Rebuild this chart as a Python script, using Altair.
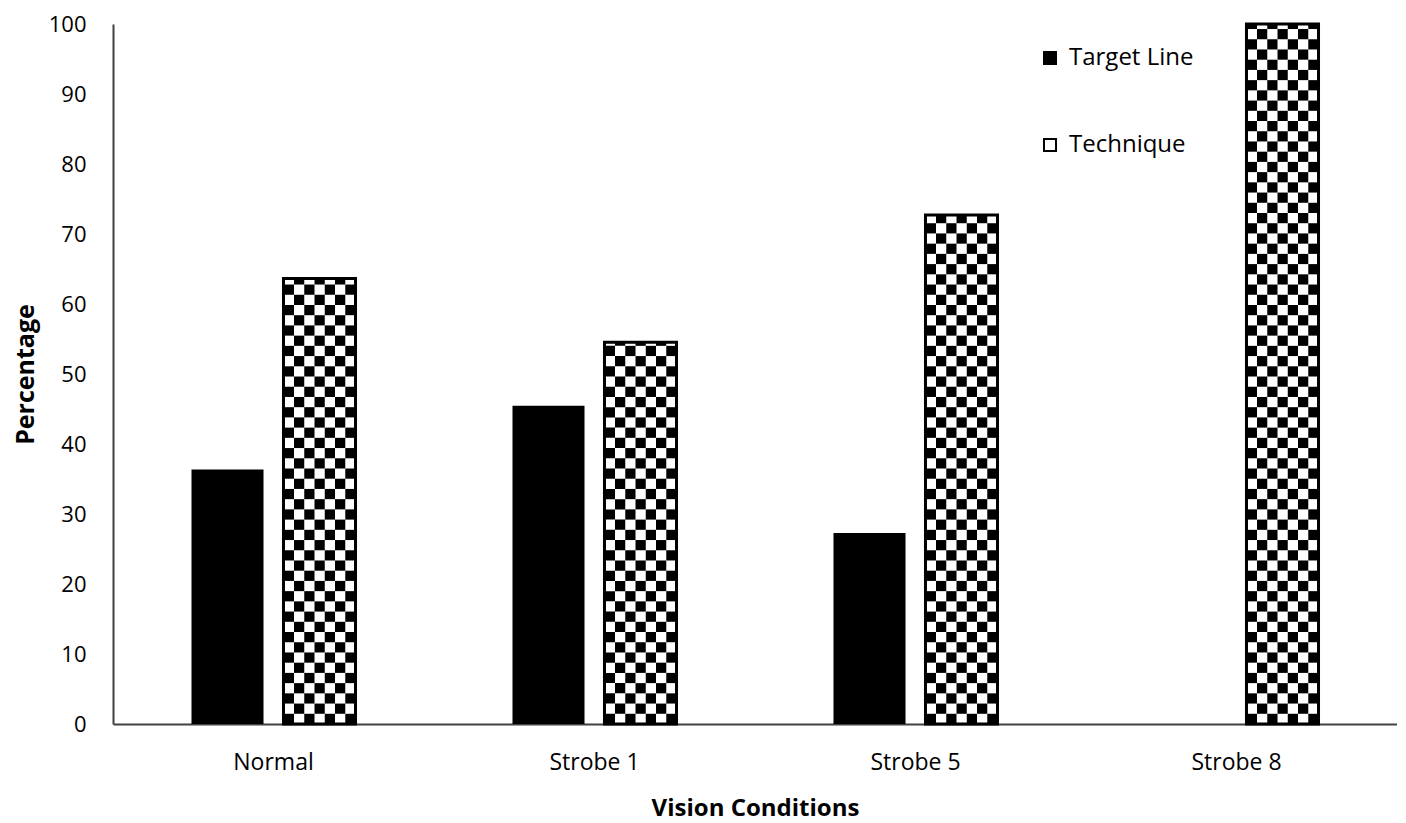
import altair as alt
import numpy as np
import pandas as pd

# ---- data ----
conditions = ["Normal", "Strobe 1", "Strobe 5", "Strobe 8"]
series = ["Target Line", "Technique"]
target_line = [36.36, 45.45, 27.27, 0.0]
technique = [63.64, 54.55, 72.73, 100.0]
y_ticks = [0, 10, 20, 30, 40, 50, 60, 70, 80, 90, 100]

FONT = "Open Sans"

bars = pd.DataFrame({
    "condition": conditions * 2,
    "series": [series[0]] * len(conditions) + [series[1]] * len(conditions),
    "value": target_line + technique,
})

# checkerboard fill pattern for the Technique bars (derived from the values)
CELL = 1.46         # height of one pattern cell, in data units
COLS = 7            # pattern cells across one bar
slots = [f"t{i}" for i in range(COLS)] + ["g0", "g1"] + [f"c{i}" for i in range(COLS)]
cells = []
for cond, v in zip(conditions, technique):
    n = int(np.ceil(v / CELL))
    for r in range(n):
        lo = r * CELL
        hi = min((r + 1) * CELL, v)
        for c in range(COLS):
            if (r + c) % 2 == 0:
                cells.append({"condition": cond, "slot": f"c{c}", "lo": lo, "hi": hi})
cells = pd.DataFrame(cells)

x_scale = alt.Scale(domain=conditions, paddingInner=0.489, paddingOuter=0.2445)
y_scale = alt.Scale(domain=[0, 100], nice=False)
off_scale = alt.Scale(domain=series, paddingInner=0.217, paddingOuter=0)

x_enc = alt.X("condition:N", sort=conditions, scale=x_scale, title="Vision Conditions",
              axis=alt.Axis(labelAngle=0, labelPadding=27, titlePadding=22,
                            labelFontSize=23, titleFontSize=24))
y_enc = alt.Y("value:Q", scale=y_scale, title="Percentage",
              axis=alt.Axis(values=y_ticks, labelPadding=27, titlePadding=10,
                            labelFontSize=22, titleFontSize=25))

base_bars = alt.Chart(bars).mark_bar(strokeWidth=0).encode(
    x=x_enc,
    y=y_enc,
    xOffset=alt.XOffset("series:N", scale=off_scale),
    color=alt.Color("series:N", scale=alt.Scale(domain=series, range=["black", "white"]),
                    legend=alt.Legend(title=None)),
)

checker = alt.Chart(cells).mark_rect(color="black").encode(
    x=alt.X("condition:N", sort=conditions, scale=x_scale, title="Vision Conditions"),
    y=alt.Y("lo:Q", scale=y_scale, title="Percentage"),
    y2="hi:Q",
    xOffset=alt.XOffset("slot:N", scale=alt.Scale(domain=slots, paddingInner=0, paddingOuter=0)),
)

outline = alt.Chart(bars).transform_filter(
    alt.datum.series == series[1]
).mark_bar(fillOpacity=0, stroke="black", strokeWidth=3).encode(
    x=alt.X("condition:N", sort=conditions, scale=x_scale, title="Vision Conditions"),
    y=alt.Y("value:Q", scale=y_scale, title="Percentage"),
    xOffset=alt.XOffset("series:N", scale=off_scale),
)

chart = alt.layer(base_bars, checker, outline).resolve_scale(
    xOffset="independent"
).properties(
    width=1284,
    height=700,
    autosize="none",
    padding={"left": 105, "top": 16, "right": 0, "bottom": 102},
    background="white",
).configure_view(
    stroke=None
).configure_axis(
    grid=False,
    ticks=False,
    domainColor="#404040",
    domainWidth=2,
    labelFont=FONT,
    labelColor="black",
    titleFont=FONT,
    titleFontWeight="bold",
    titleColor="black",
).configure_legend(
    orient="none",
    legendX=925,
    legendY=22,
    symbolType="square",
    symbolSize=144,
    symbolStrokeColor="black",
    symbolStrokeWidth=2,
    labelFont=FONT,
    labelFontSize=24,
    labelColor="black",
    labelOffset=7,
    rowPadding=63,
    padding=0,
)

chart.save("out.html", embed_options={"renderer": "svg", "actions": False})
